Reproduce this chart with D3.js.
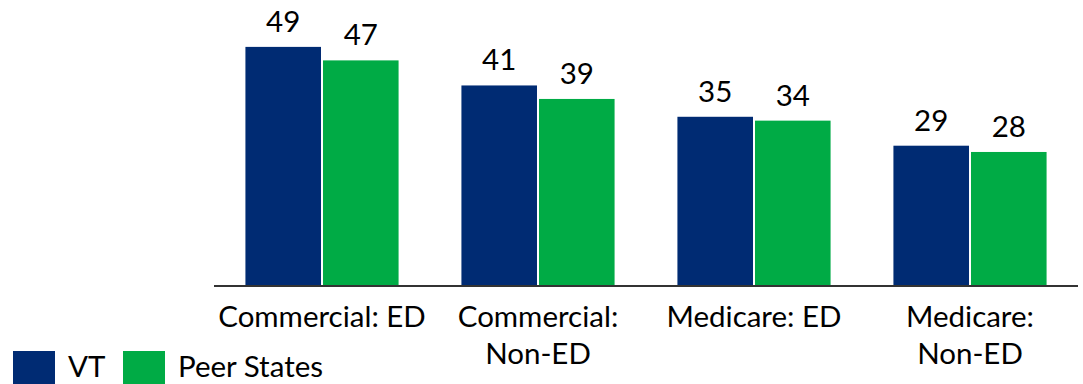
<!DOCTYPE html>
<html>
<head>
<meta charset="utf-8">
<script src="https://cdn.jsdelivr.net/npm/d3@7"></script>
<style>
	body { margin: 0; background: #fff; }
	svg text { font-family: Lato, 'Noto Sans', sans-serif; fill: #000; }
</style>
</head>
<body>
<div id="chart-holder"></div>
<script>
// Chart data
let categories = ['Commercial: ED', 'Commercial: Non-ED', 'Medicare: ED', 'Medicare: Non-ED'];
let categoryLines = [['Commercial: ED'], ['Commercial:', 'Non-ED'], ['Medicare: ED'], ['Medicare:', 'Non-ED']];
let seriesNames = ['VT', 'Peer States'];
let vtValues = [49.4, 41.4, 34.9, 28.9];
let peerValues = [46.6, 38.6, 34.1, 27.6];

let palette = {
	'VT': '#002b73',
	'Peer States': '#00ab45'
};

let width = 1083;
let height = 384;
let fontSize = 29.5;

let svg = d3.select('#chart-holder')
	.append('svg')
	.attr('width', width + 'px')
	.attr('height', height + 'px')

// Scales
let x = d3.scaleBand()
	.domain(categories)
	.range([214, 1078])

let xInner = d3.scaleBand()
	.domain(seriesNames)
	.range([0, x.bandwidth()])
	.paddingInner(0.026)
	.paddingOuter(0.405)

let y = d3.scaleLinear()
	.domain([0, 50])
	.range([285, 44])

let fmt = d3.format('.0f');

let rows = categories.map(function(c, i){
	return {
		category: c,
		values: [
			{series: 'VT', value: vtValues[i]},
			{series: 'Peer States', value: peerValues[i]}
		]
	};
});

// Bars
let groups = svg.append('g')
	.attr('id', 'bars')
	.selectAll('g')
	.data(rows)
	.enter()
	.append('g')
	.attr('transform', function(d){
		return 'translate(' + x(d.category) + ',0)';
	})

groups.selectAll('rect')
	.data(function(d){ return d.values; })
	.enter()
	.append('rect')
	.attr('x', function(d){ return xInner(d.series); })
	.attr('y', function(d){ return y(d.value); })
	.attr('width', xInner.bandwidth())
	.attr('height', function(d){ return y(0) - y(d.value); })
	.attr('fill', function(d){ return palette[d.series]; })

// Value labels
groups.selectAll('text')
	.data(function(d){ return d.values; })
	.enter()
	.append('text')
	.text(function(d){ return fmt(d.value); })
	.attr('x', function(d){ return xInner(d.series) + xInner.bandwidth() / 2; })
	.attr('y', function(d){ return y(d.value) - 15; })
	.attr('text-anchor', 'middle')
	.attr('font-size', fontSize)

// Axis line
svg.append('line')
	.attr('x1', x.range()[0])
	.attr('x2', x.range()[1])
	.attr('y1', y(0) + 1)
	.attr('y2', y(0) + 1)
	.attr('stroke', '#333')
	.attr('stroke-width', 2)

// Category labels
let catLabels = svg.append('g').attr('id', 'categories');
categories.forEach(function(c, i){
	let t = catLabels.append('text')
		.attr('text-anchor', 'middle')
		.attr('font-size', fontSize)
		.attr('x', x(c) + x.bandwidth() / 2)
		.attr('y', 327)
	categoryLines[i].forEach(function(line, j){
		t.append('tspan')
			.attr('x', x(c) + x.bandwidth() / 2)
			.attr('dy', j === 0 ? 0 : 37)
			.text(line)
	});
});

// Legend
let legendX = [13, 123];
let legend = svg.append('g').attr('id', 'legend');
seriesNames.forEach(function(s, i){
	legend.append('rect')
		.attr('x', legendX[i])
		.attr('y', 351)
		.attr('width', 42)
		.attr('height', 42)
		.attr('fill', palette[s])
	legend.append('text')
		.text(s)
		.attr('x', legendX[i] + 55)
		.attr('y', 377)
		.attr('font-size', fontSize)
});
</script>
</body>
</html>
